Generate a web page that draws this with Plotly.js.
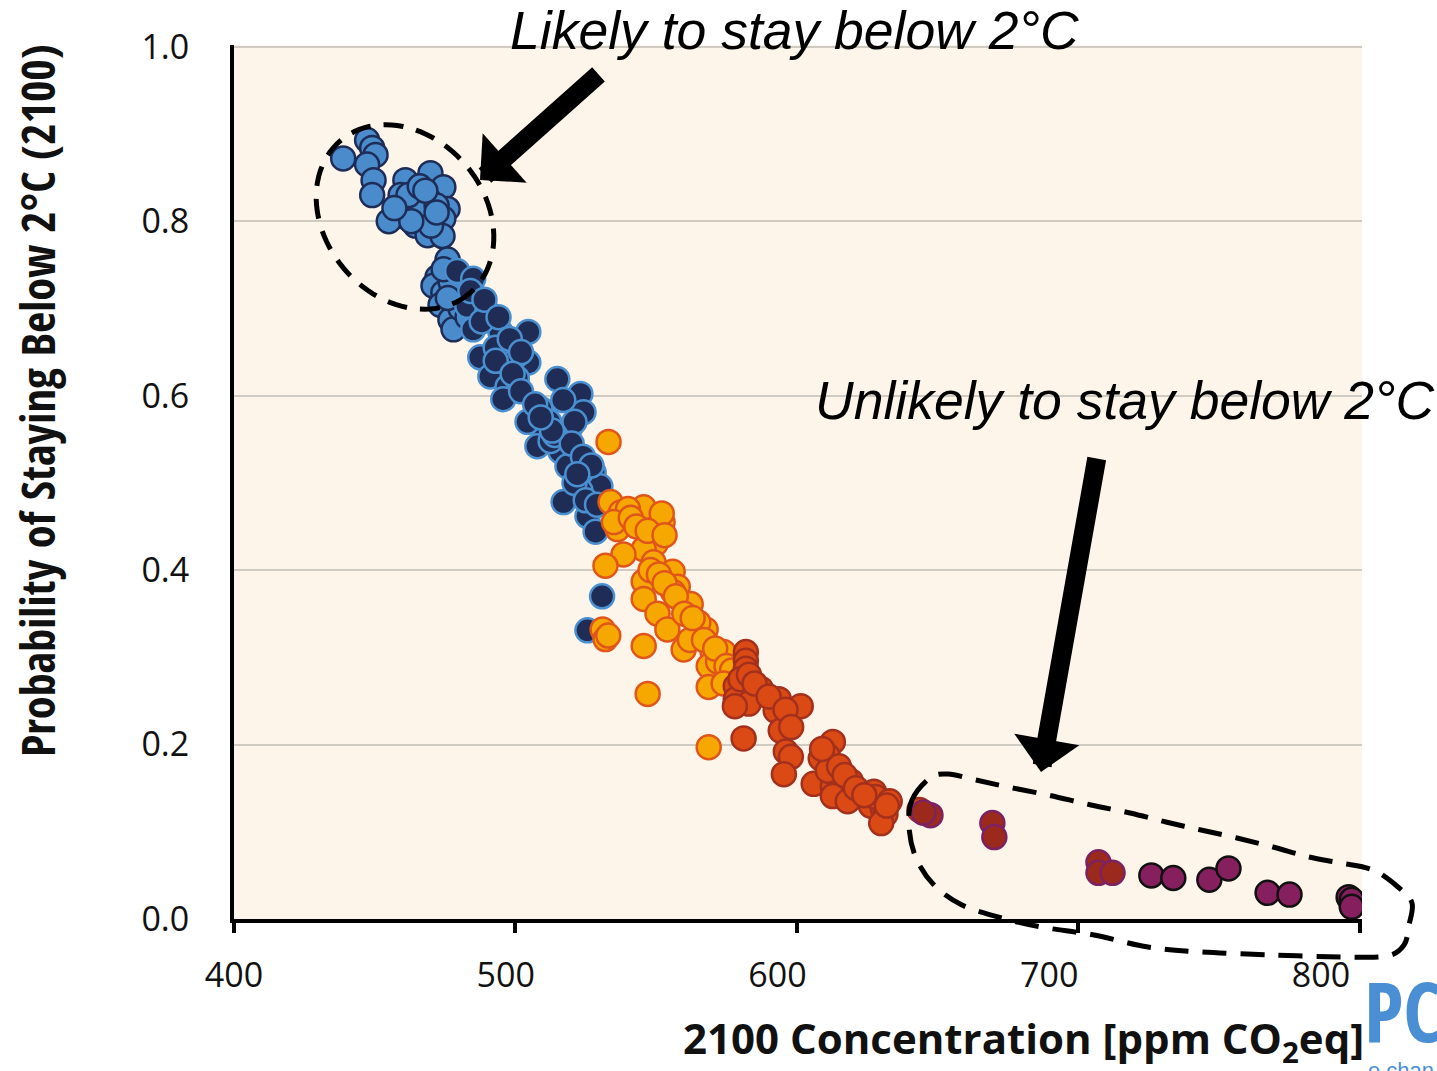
<!DOCTYPE html>
<html><head><meta charset="utf-8">
<script src="https://cdn.plot.ly/plotly-3.0.1.min.js"></script>
<style>
html,body{margin:0;padding:0;background:#fff;}
g.annotation[data-index="0"] text, g.annotation[data-index="0"] tspan { font-stretch: condensed; }
g.annotation[data-index="6"] text, g.annotation[data-index="6"] tspan { font-stretch: condensed; }
</style>
</head><body>
<div id="chart" style="width:1437px;height:1071px"></div>
<script>
// ---------- data ----------
const xTickVals = [400, 500, 600, 700, 800];
const xTickText = ['400', '500', '600', '700', '800'];
const yTickVals = [0, 0.2, 0.4, 0.6, 0.8, 1.0];
const yTickText = ['0.0', '0.2', '0.4', '0.6', '0.8', '1.0'];

const lightBlueX = [438.8,447.3,449.1,450.3,447.3,449.6,449.1,460.9,469.8,474.4,459.2,469.1,475.9,460.2,459.9,469.1,474.4,464.5,468.8,474.1,475.9,472.3,470.9,474.4,473.4,476.9,478.0,466.0,472.0,477.0,480.5,483.0,455.0,462.0,466.0,470.0,463.0,457.0,472.0,468.0,474.5,476.0];
const lightBlueY = [0.872,0.893,0.884,0.876,0.865,0.847,0.830,0.847,0.855,0.839,0.830,0.825,0.814,0.816,0.806,0.805,0.803,0.795,0.784,0.783,0.756,0.736,0.726,0.718,0.704,0.687,0.676,0.812,0.818,0.730,0.700,0.690,0.800,0.830,0.840,0.795,0.800,0.815,0.810,0.835,0.745,0.712];

const navyX = [479.3,485.0,482.9,490.0,485.0,494.7,496.0,504.6,487.5,496.4,504.6,491.1,497.2,495.7,514.9,523.1,524.2,508.9,504.3,519.6,510.0,507.8,516.0,518.5,527.8,530.2,523.1,517.1,525.6,528.5,530.8,525.6,500.5,512.0,521.0,525.0,512.5,500.0,493.0,488.0,484.0,489.0,494.0,498.0,502.0,493.0,499.0,502.0,507.0,517.0,521.0,514.0,520.0,524.0,527.0,522.0,529.0,513.0,509.0];
const navyY = [0.743,0.734,0.703,0.696,0.676,0.673,0.657,0.673,0.644,0.630,0.638,0.622,0.610,0.596,0.619,0.602,0.581,0.585,0.570,0.564,0.550,0.542,0.536,0.519,0.512,0.496,0.491,0.478,0.462,0.444,0.370,0.331,0.620,0.570,0.500,0.480,0.548,0.645,0.655,0.685,0.720,0.710,0.690,0.665,0.650,0.640,0.625,0.605,0.590,0.595,0.570,0.555,0.545,0.530,0.520,0.510,0.475,0.560,0.575];

const orangeX = [533.1,533.8,537.4,538.4,536.3,545.6,552.3,550.5,549.8,545.6,538.4,532.0,549.1,555.9,545.6,545.6,557.7,550.5,554.0,562.3,565.8,559.8,570.1,568.7,574.0,531.0,532.0,545.6,547.0,568.7,568.7,576.5,567.6,540.0,552.0,535.0,556.0,565.0,572.0,562.0,533.0,541.0,543.0,547.0,553.0,548.0,551.0,553.0,557.0,560.0,563.0,567.0,571.0,575.0,577.0,574.0];
const orangeY = [0.547,0.478,0.466,0.458,0.447,0.472,0.455,0.441,0.430,0.424,0.418,0.405,0.409,0.398,0.387,0.367,0.381,0.350,0.332,0.361,0.330,0.309,0.306,0.290,0.306,0.332,0.321,0.313,0.258,0.266,0.197,0.275,0.332,0.470,0.465,0.455,0.375,0.340,0.295,0.320,0.325,0.460,0.450,0.445,0.440,0.400,0.395,0.385,0.370,0.350,0.345,0.320,0.310,0.290,0.285,0.270];

const redX = [581.9,581.9,581.9,578.3,587.2,578.3,582.9,593.6,601.4,592.5,594.3,581.1,596.1,597.9,595.4,612.8,611.0,608.5,606.0,612.8,619.2,612.8,618.1,627.4,629.9,626.3,630.6,578.0,580.0,611.0,628.0,631.5,630.0,643.6,583.0,585.0,590.0,596.0,598.0,609.0,615.0,617.0,621.0,624.0,633.0,632.0];
const redY = [0.306,0.296,0.287,0.267,0.264,0.252,0.247,0.252,0.244,0.239,0.216,0.207,0.192,0.186,0.166,0.203,0.187,0.184,0.155,0.152,0.158,0.141,0.135,0.146,0.135,0.130,0.126,0.244,0.275,0.170,0.140,0.120,0.110,0.125,0.280,0.270,0.255,0.240,0.220,0.195,0.175,0.165,0.150,0.142,0.135,0.130];

const darkRedX = [647.5,645.0,669.5,670.2,707.2,707.2,712.2];
const darkRedY = [0.119,0.122,0.110,0.094,0.065,0.053,0.053];

const purpleX = [726.0,733.8,746.6,753.4,767.3,775.1,796.1,797.2,797.2];
const purpleY = [0.050,0.047,0.045,0.058,0.030,0.028,0.025,0.022,0.014];

// ---------- geometry helpers (page pixels -> paper) ----------
const W = 1437, H = 1071, ML = 234, MR = 75, MT = 45, MB = 152;
const PW = W - ML - MR, PH = H - MT - MB;
const px = v => (v - ML) / PW;
const py = v => (H - MB - v) / PH;

function ellipsePath(cx, cy, a, b, deg) {
  const th = deg * Math.PI / 180; let d = '';
  for (let i = 0; i <= 96; i++) {
    const t = i / 96 * 2 * Math.PI;
    const X = cx + a * Math.cos(t) * Math.cos(th) - b * Math.sin(t) * Math.sin(th);
    const Y = cy + a * Math.cos(t) * Math.sin(th) + b * Math.sin(t) * Math.cos(th);
    d += (i ? ' L ' : 'M ') + px(X).toFixed(5) + ',' + py(Y).toFixed(5);
  }
  return d + ' Z';
}
function closedSpline(pts) {
  const n = pts.length; const P = i => pts[(i + n) % n];
  let d = 'M ' + px(P(0)[0]).toFixed(5) + ',' + py(P(0)[1]).toFixed(5);
  for (let i = 0; i < n; i++) {
    const p0 = P(i - 1), p1 = P(i), p2 = P(i + 1), p3 = P(i + 2);
    const c1 = [p1[0] + (p2[0] - p0[0]) / 6, p1[1] + (p2[1] - p0[1]) / 6];
    const c2 = [p2[0] - (p3[0] - p1[0]) / 6, p2[1] - (p3[1] - p1[1]) / 6];
    d += ' C ' + [c1, c2, p2].map(p => px(p[0]).toFixed(5) + ',' + py(p[1]).toFixed(5)).join(' ');
  }
  return d + ' Z';
}
const loopOutline = [[912,800],[930,778],[948,774],[976,780],[1008,787],[1048,795],[1091,805],[1130,813],[1166,822],[1201,830],[1237,838],[1273,847],[1309,857],[1341,863],[1373,870],[1398,887],[1412,903],[1409,925],[1404,945],[1387,956],[1344,957],[1273,955],[1201,952],[1148,947],[1094,935],[1041,927],[998,917],[962,905],[934,885],[916,858],[909,827]];

// ---------- traces ----------
function series(x, y, fill, edge, name) {
  return { type: 'scatter', mode: 'markers', x: x, y: y, name: name, showlegend: false,
    marker: { symbol: 'circle', size: 24, color: fill, line: { color: edge, width: 2.5 } },
    hoverinfo: 'x+y' };
}
const traces = [
  series(lightBlueX, lightBlueY, '#4A8BCB', '#1E2D57', 'likely'),
  series(navyX, navyY, '#1F2D56', '#4A8FD0', 'navy'),
  series(orangeX, orangeY, '#F6A800', '#E0561A', 'orange'),
  series(redX, redY, '#DB4A14', '#A3301C', 'red'),
  series(darkRedX, darkRedY, '#9C2A1C', '#7C2263', 'darkred'),
  series(purpleX, purpleY, '#861F5E', '#111111', 'purple'),
  { type: 'scatter', mode: 'markers', x: [], y: [], xaxis: 'x2', yaxis: 'y', showlegend: false }
];

const tickFont = { family: '"Open Sans", "DejaVu Sans", sans-serif', size: 34, color: '#111' };
const Y_TITLE_LEN = 713;

const layout = {
  width: W, height: H,
  margin: { l: ML, r: MR, t: MT, b: MB, pad: 0 },
  paper_bgcolor: '#ffffff', plot_bgcolor: '#FEF5EA',
  showlegend: false,
  xaxis: { range: [400, 400 + PW / 2.814], tickvals: xTickVals, showticklabels: false,
    ticks: 'outside', ticklen: 10, tickwidth: 4, tickcolor: '#000',
    showline: true, linewidth: 4, linecolor: '#000', showgrid: false, zeroline: false },
  xaxis2: { overlaying: 'x', anchor: 'y', side: 'bottom', range: [400, 400 + PW / 2.7175],
    tickvals: xTickVals, ticktext: xTickText, ticks: 'outside', ticklen: 26, tickcolor: 'rgba(0,0,0,0)',
    showline: false, showgrid: false, zeroline: false, tickfont: tickFont },
  yaxis: { range: [0, 1.002], tickvals: yTickVals, ticktext: yTickText,
    ticks: 'outside', ticklen: 34, tickcolor: 'rgba(0,0,0,0)', tickfont: tickFont,
    showline: true, linewidth: 4, linecolor: '#000', showgrid: true, gridcolor: '#CFCAC2', gridwidth: 2,
    zeroline: false },
  shapes: [
    { type: 'path', xref: 'paper', yref: 'paper', path: ellipsePath(405, 217, 100, 80, 50),
      line: { color: '#000', width: 5, dash: '20px,13px' }, fillcolor: 'rgba(0,0,0,0)', layer: 'above' },
    { type: 'path', xref: 'paper', yref: 'paper', path: closedSpline(loopOutline),
      line: { color: '#000', width: 5, dash: '24px,14px' }, fillcolor: 'rgba(0,0,0,0)', layer: 'above' }
  ],
  annotations: [
    { xref: 'paper', yref: 'paper', x: px(37), y: py(401), text: '<b>Probability of Staying Below 2°C (2100)</b>',
      textangle: -90, showarrow: false, xanchor: 'center', yanchor: 'middle',
      font: { family: '"Open Sans Condensed", "Open Sans", "DejaVu Sans Condensed", sans-serif', size: 46, color: '#111' } },
    { xref: 'paper', yref: 'paper', x: px(1366), y: py(1040), text: '<b>2100 Concentration [ppm CO<sub>2</sub>eq]</b>',
      showarrow: false, xanchor: 'right', yanchor: 'middle',
      font: { family: '"Open Sans", "DejaVu Sans", sans-serif', size: 42, color: '#111' } },
    { xref: 'paper', yref: 'paper', x: px(508), y: py(30), text: '<i>Likely to stay below 2°C</i>',
      showarrow: false, xanchor: 'left', yanchor: 'middle',
      font: { family: '"Liberation Sans", Arial, sans-serif', size: 53.5, color: '#000' } },
    { xref: 'paper', yref: 'paper', x: px(813), y: py(400), text: '<i>Unlikely to stay below 2°C</i>',
      showarrow: false, xanchor: 'left', yanchor: 'middle',
      font: { family: '"Liberation Sans", Arial, sans-serif', size: 53.5, color: '#000' } },
    { xref: 'paper', yref: 'paper', x: px(480), y: py(180), text: '', showarrow: true,
      ax: 120, ay: -107, arrowhead: 1, arrowsize: 0.58, arrowwidth: 19, arrowcolor: '#000' },
    { xref: 'paper', yref: 'paper', x: px(1041), y: py(772), text: '', showarrow: true,
      ax: 56, ay: -315, arrowhead: 1, arrowsize: 0.58, arrowwidth: 19, arrowcolor: '#000' },
    { xref: 'paper', yref: 'paper', x: px(1362), y: py(1010), text: '<b>PC</b>', showarrow: false,
      xanchor: 'left', yanchor: 'middle',
      font: { family: '"Open Sans Condensed", "Open Sans", sans-serif', size: 82, color: '#4A8FD4' } },
    { xref: 'paper', yref: 'paper', x: px(1366), y: py(1056), text: 'e chan', showarrow: false,
      xanchor: 'left', yanchor: 'top',
      font: { family: '"Liberation Sans", sans-serif', size: 22, color: '#4A8FD4' } }
  ]
};

Plotly.newPlot('chart', traces, layout, { displayModeBar: false, staticPlot: true }).then(gd => {
  const el = gd.querySelector('g.annotation[data-index="0"] text');
  if (!el) return;
  let len = 0;
  try { len = el.getComputedTextLength(); } catch (e) { len = 0; }
  if (!len) { try { len = el.getBBox().width; } catch (e) {} }
  if (len > 0) {
    const size = Math.max(20, Math.min(60, 46 * Y_TITLE_LEN / len));
    return Plotly.relayout(gd, { 'annotations[0].font.size': size });
  }
});
</script>
</body></html>
